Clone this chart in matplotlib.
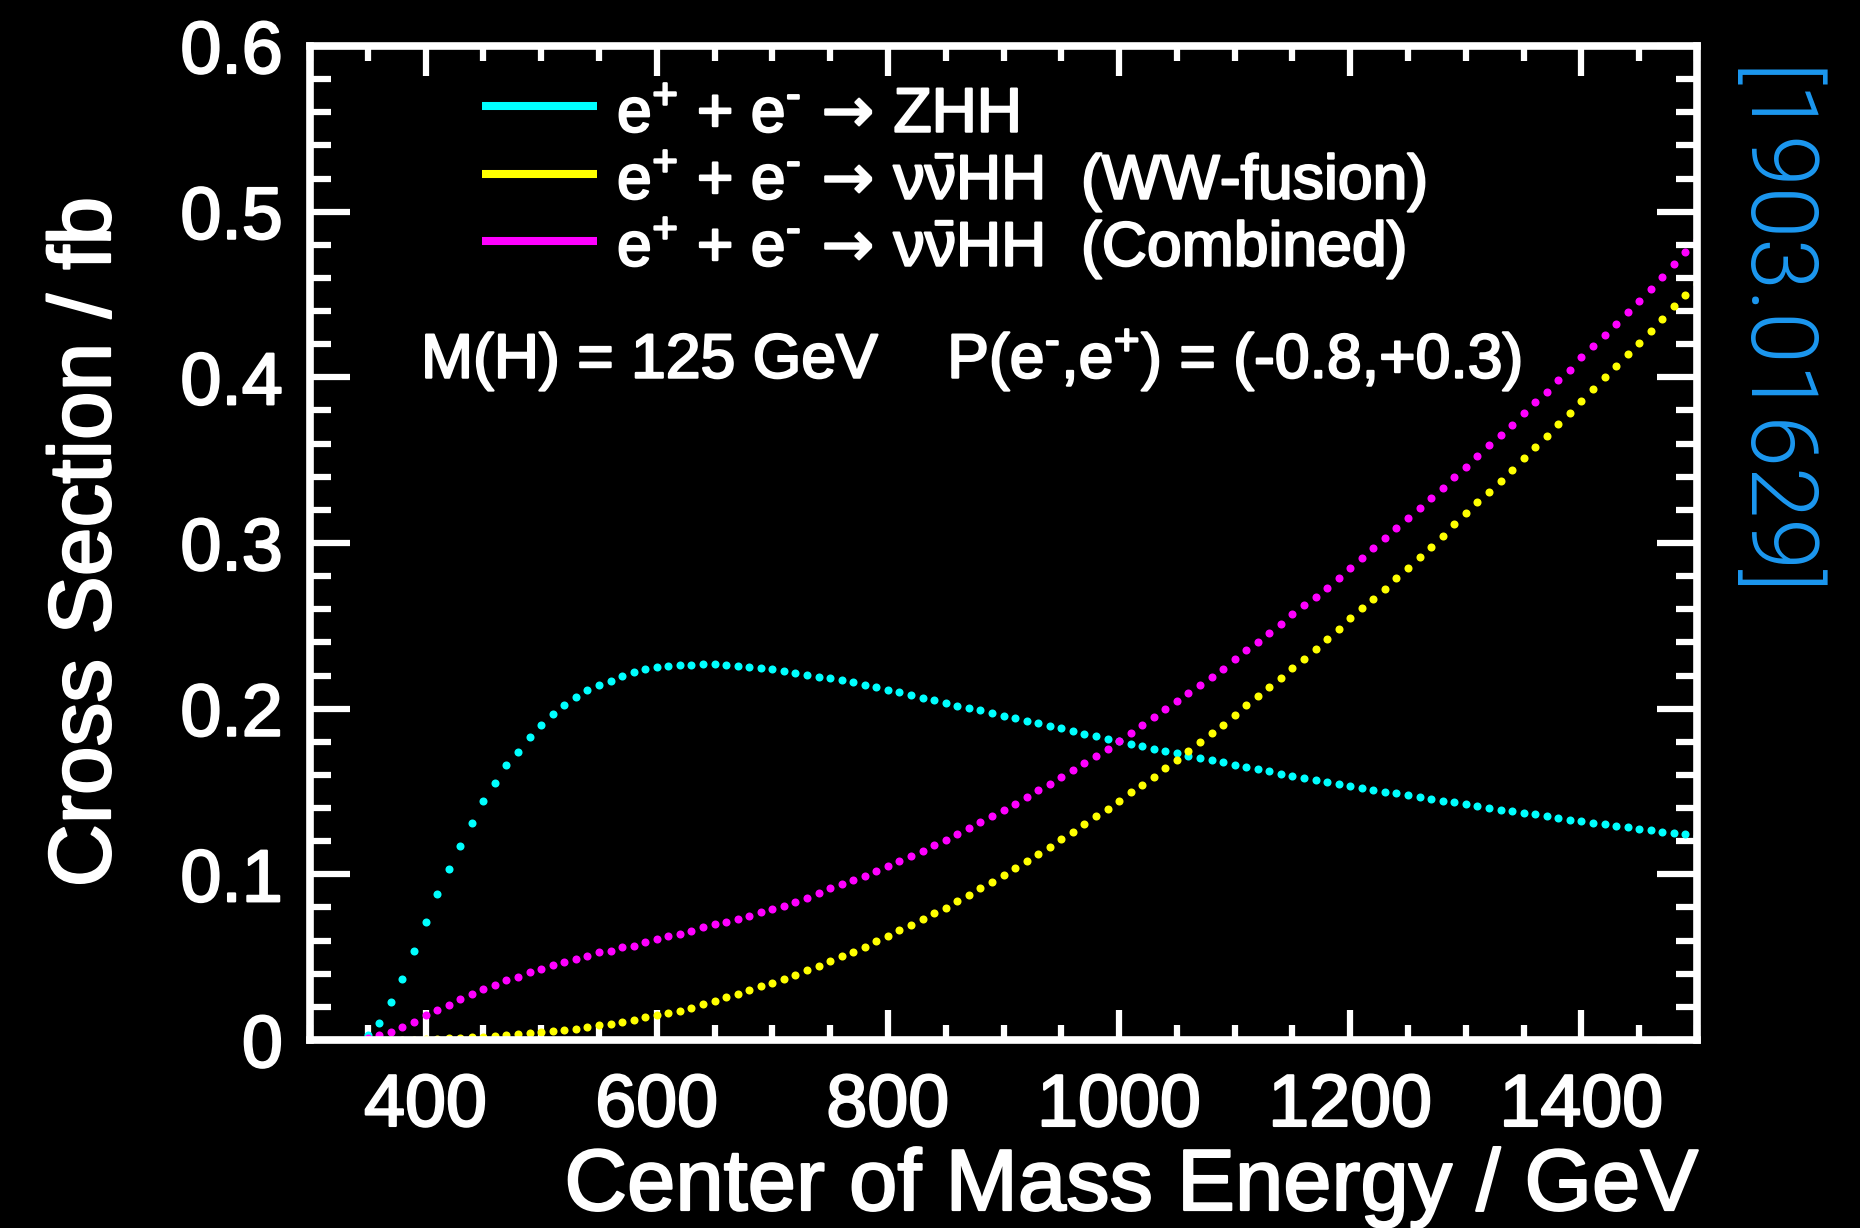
"""
e+e- -> HH cross sections vs. centre of mass energy (ROOT style, black background)
"""

import numpy as np
import matplotlib
matplotlib.use("Agg")
import matplotlib.pyplot as plt
import matplotlib.patheffects as pe
from matplotlib.ticker import MultipleLocator, FuncFormatter
from matplotlib.lines import Line2D

# 数据: 每 10 GeV 一个点 (350 - 1500 GeV)
energy = np.arange(350, 1501, 10)

sigma_zhh = [
    0.003, 0.010, 0.023, 0.037, 0.054, 0.071, 0.088, 0.103, 0.117, 0.131,
    0.144, 0.155, 0.166, 0.174, 0.183, 0.190, 0.197, 0.202, 0.207, 0.211,
    0.214, 0.217, 0.220, 0.222, 0.224, 0.225, 0.226, 0.2265, 0.2265, 0.227,
    0.227, 0.2265, 0.226, 0.225, 0.2245, 0.2237, 0.2226, 0.2215, 0.2204, 0.2193,
    0.2183, 0.2171, 0.2158, 0.2143, 0.2128, 0.2114, 0.2098, 0.2083, 0.2067, 0.2052,
    0.2035, 0.2019, 0.2004, 0.1989, 0.1973, 0.1957, 0.1941, 0.1927, 0.1912, 0.1897,
    0.1881, 0.1864, 0.1848, 0.1833, 0.1819, 0.1806, 0.1789, 0.1772, 0.1758, 0.1744,
    0.1731, 0.1717, 0.1703, 0.1689, 0.1676, 0.1662, 0.1648, 0.1635, 0.1621, 0.1608,
    0.1596, 0.1582, 0.1570, 0.1557, 0.1546, 0.1535, 0.1523, 0.1512, 0.1500, 0.1489,
    0.1477, 0.1466, 0.1456, 0.1445, 0.1434, 0.1423, 0.1411, 0.1401, 0.1391, 0.1381,
    0.1372, 0.1362, 0.1350, 0.1340, 0.1330, 0.1320, 0.1311, 0.1302, 0.1292, 0.1283,
    0.1275, 0.1266, 0.1258, 0.1249, 0.1241, 0.1233,
]

sigma_wwfusion = [
    0.0, 0.0, 0.0001, 0.0002, 0.0003, 0.0005, 0.0007, 0.0010, 0.0013, 0.0016,
    0.0020, 0.0024, 0.0029, 0.0035, 0.0041, 0.0047, 0.0054, 0.0061, 0.0069, 0.0078,
    0.0088, 0.0098, 0.0109, 0.0121, 0.0138, 0.0152, 0.0165, 0.0178, 0.0195, 0.0215,
    0.0233, 0.0258, 0.0280, 0.0303, 0.0325, 0.0344, 0.0368, 0.0393, 0.0421, 0.0446,
    0.0474, 0.0505, 0.0532, 0.0564, 0.0596, 0.0629, 0.0664, 0.0696, 0.0729, 0.0764,
    0.0799, 0.0837, 0.0876, 0.0915, 0.0956, 0.0994, 0.1036, 0.1080, 0.1124, 0.1168,
    0.1213, 0.1258, 0.1305, 0.1353, 0.1396, 0.1444, 0.1496, 0.1541, 0.1587, 0.1640,
    0.1692, 0.1744, 0.1798, 0.1851, 0.1902, 0.1964, 0.2020, 0.2076, 0.2132, 0.2188,
    0.2247, 0.2301, 0.2363, 0.2421, 0.2482, 0.2550, 0.2607, 0.2663, 0.2725, 0.2787,
    0.2850, 0.2916, 0.2978, 0.3045, 0.3113, 0.3180, 0.3247, 0.3309, 0.3375, 0.3443,
    0.3515, 0.3578, 0.3644, 0.3717, 0.3785, 0.3858, 0.3931, 0.4003, 0.4070, 0.4138,
    0.4210, 0.4279, 0.4352, 0.4428, 0.4496, 0.4565,
]

sigma_combined = [
    0.001, 0.003, 0.005, 0.008, 0.011, 0.015, 0.018, 0.021, 0.025, 0.028,
    0.031, 0.033, 0.036, 0.038, 0.041, 0.043, 0.045, 0.047, 0.049, 0.051,
    0.053, 0.054, 0.056, 0.057, 0.059, 0.061, 0.063, 0.064, 0.066, 0.068,
    0.070, 0.071, 0.073, 0.075, 0.077, 0.079, 0.081, 0.083, 0.086, 0.089,
    0.0915, 0.094, 0.0965, 0.099, 0.102, 0.105, 0.108, 0.111, 0.114, 0.1175,
    0.121, 0.1245, 0.128, 0.1315, 0.135, 0.1387, 0.1425, 0.1465, 0.1507, 0.1548,
    0.1587, 0.1628, 0.167, 0.1715, 0.1759, 0.1806, 0.1852, 0.1899, 0.1948, 0.1996,
    0.2044, 0.2092, 0.2142, 0.2193, 0.2242, 0.2297, 0.2352, 0.2405, 0.2458, 0.2512,
    0.2570, 0.2628, 0.2677, 0.2731, 0.2788, 0.2850, 0.2910, 0.2968, 0.3029, 0.3090,
    0.3151, 0.3210, 0.3270, 0.3335, 0.3397, 0.3460, 0.3527, 0.3594, 0.3652, 0.3714,
    0.3784, 0.3851, 0.3914, 0.3985, 0.4046, 0.4120, 0.4189, 0.4256, 0.4323, 0.4396,
    0.4460, 0.4535, 0.4608, 0.4682, 0.4756, 0.4830,
]

arrow = r"$\!\mathsf{\rightarrow}\!$"
labels = [
    r"e$^{+}$ + e$^{\text{-}}$ " + arrow + " ZHH",
    r"e$^{+}$ + e$^{\text{-}}$ " + arrow + r" $\nu\bar{\nu}$HH  (WW-fusion)",
    r"e$^{+}$ + e$^{\text{-}}$ " + arrow + r" $\nu\bar{\nu}$HH  (Combined)",
]
colors = ["#00ffff", "#ffff00", "#ff00ff"]
series = [sigma_zhh, sigma_wwfusion, sigma_combined]

plt.rcParams["font.family"] = ["Liberation Sans", "DejaVu Sans"]
plt.rcParams["mathtext.fontset"] = "custom"
plt.rcParams["mathtext.rm"] = "Liberation Sans"
plt.rcParams["mathtext.sf"] = "DejaVu Sans"
plt.rcParams["mathtext.default"] = "regular"

W, H = 1860, 1228
bold = [pe.withStroke(linewidth=1.6, foreground="white")]


def fx(px):
    return px / W


def fy(py):
    return 1 - py / H


fig = plt.figure(figsize=(W / 100, H / 100), dpi=100, facecolor="black")
ax = fig.add_axes([fx(310), fy(1040), fx(1697) - fx(310), fy(46) - fy(1040)])
ax.set_facecolor("black")

for vals, c in zip(series, colors):
    ax.plot(energy, vals, linestyle="none", marker="o", markersize=5.8,
            markeredgewidth=0, color=c, zorder=2)

ax.set_xlim(300, 1500)
ax.set_ylim(0, 0.6)

ax.xaxis.set_major_locator(MultipleLocator(200))
ax.xaxis.set_minor_locator(MultipleLocator(50))
ax.yaxis.set_major_locator(MultipleLocator(0.1))
ax.yaxis.set_minor_locator(MultipleLocator(0.02))
ax.yaxis.set_major_formatter(FuncFormatter(lambda v, p: "%g" % round(v, 2)))

for s in ax.spines.values():
    s.set_color("white")
    s.set_linewidth(5.5)
    s.set_zorder(5)

ax.tick_params(axis="both", which="both", direction="in", colors="white",
               top=True, right=True, width=4.5, labelsize=53)
ax.tick_params(axis="x", which="major", length=21.5, pad=23)
ax.tick_params(axis="x", which="minor", length=10.5)
ax.tick_params(axis="y", which="major", length=29, pad=19.5)
ax.tick_params(axis="y", which="minor", length=15)
for t in ax.get_xticklabels() + ax.get_yticklabels():
    t.set_path_effects(bold)

# 轴标题
fig.text(fx(1697), fy(1210), "Center of Mass Energy / GeV", color="white",
         fontsize=62.5, ha="right", va="baseline", path_effects=bold)
fig.text(fx(110), fy(542), "Cross Section / fb", color="white", fontsize=63,
         rotation=90, rotation_mode="anchor", ha="center", va="baseline",
         path_effects=bold)

# 图例 (手动排布)
row_line_y = [106, 174, 241]
row_base_y = [132, 199, 266]
for lab, c, ly, by in zip(labels, colors, row_line_y, row_base_y):
    fig.add_artist(Line2D([fx(482), fx(597)], [fy(ly), fy(ly)], color=c,
                          linewidth=5.8, solid_capstyle="butt"))
    fig.text(fx(617), fy(by), lab, color="white", fontsize=45,
             ha="left", va="baseline", path_effects=bold)

fig.text(fx(421), fy(378),
         r"M(H) = 125 GeV    P(e$^{\text{-}}$,e$^{+}$) = (-0.8,+0.3)",
         color="white", fontsize=45, ha="left", va="baseline",
         path_effects=bold)

# 右侧 arXiv 编号
fig.text(fx(1769), fy(334), "[1903.01629]", color="#1c98f0", fontsize=67,
         family=["Roboto", "DejaVu Sans"], fontweight=300,
         rotation=-90, ha="center", va="center")

fig.savefig("out.png", dpi=100, facecolor="black")
